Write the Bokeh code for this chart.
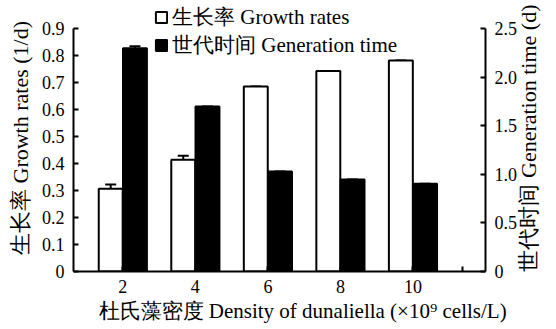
import math
from bokeh.plotting import figure
from bokeh.models import (Range1d, LinearAxis, FixedTicker, Whisker, TeeHead,
                          ColumnDataSource, Legend, LegendItem, Title)
from bokeh.transform import dodge
from bokeh.embed import file_html
from bokeh.resources import INLINE

# ---- data ----
densities = ["2", "4", "6", "8", "10"]
growth_rates = [0.307, 0.414, 0.686, 0.743, 0.782]
growth_err = [0.016, 0.015, 0.0, 0.0, 0.0]
generation_time = [2.30, 1.70, 1.03, 0.947, 0.903]
generation_err = [0.02, 0.0, 0.0, 0.0, 0.0]
left_ticks = [0, 0.1, 0.2, 0.3, 0.4, 0.5, 0.6, 0.7, 0.8, 0.9]
left_labels = ["0", "0.1", "0.2", "0.3", "0.4", "0.5", "0.6", "0.7", "0.8", "0.9"]
right_ticks = [0, 0.5, 1.0, 1.5, 2.0, 2.5]
right_labels = ["0", "0.5", "1.0", "1.5", "2.0", "2.5"]
x_title = "杜氏藻密度 Density of dunaliella (×10⁹ cells/L)"
left_title = "生长率 Growth rates (1/d)"
right_title = "世代时间 Generation time (d)"

FONT = "Liberation Serif"

xs = list(range(1, len(densities) + 1))
src = ColumnDataSource(dict(
    x=xs,
    growth=growth_rates,
    growth_hi=[g + e for g, e in zip(growth_rates, growth_err)],
    gen=generation_time,
    gen_hi=[g + e for g, e in zip(generation_time, generation_err)],
))

ymax_left = 0.99
p = figure(width=556, height=329, x_range=Range1d(0.32, 6.0),
           y_range=Range1d(0, ymax_left), output_backend="svg",
           toolbar_location=None, min_border_left=73, min_border_right=64,
           min_border_top=4, min_border_bottom=58)
p.extra_y_ranges = {"gen": Range1d(0, 2.5 * ymax_left / 0.9)}
p.outline_line_color = None
p.xgrid.visible = False
p.ygrid.visible = False
p.background_fill_color = "white"

bw = 0.33
off = 0.167
r1 = p.vbar(x=dodge("x", -off), top="growth", width=bw, source=src,
            fill_color="white", line_color="black", line_width=2)
r2 = p.vbar(x=dodge("x", off), top="gen", width=bw, source=src,
            y_range_name="gen", fill_color="black", line_color="black", line_width=2)

w1 = Whisker(base=dodge("x", -off), lower="growth", upper="growth_hi", source=src,
             line_width=2, line_color="black", lower_head=None,
             upper_head=TeeHead(size=11, line_width=2, line_color="black"))
w2 = Whisker(base=dodge("x", off), lower="gen", upper="gen_hi", source=src,
             y_range_name="gen", line_width=2, line_color="black", lower_head=None,
             upper_head=TeeHead(size=11, line_width=2, line_color="black"))
p.add_layout(w1)
p.add_layout(w2)


def style(ax, label_size="22px"):
    ax.axis_line_width = 2
    ax.axis_line_color = "black"
    ax.major_tick_in = 5
    ax.major_tick_out = 0
    ax.major_tick_line_width = 2
    ax.minor_tick_line_color = None
    ax.major_label_text_font = FONT
    ax.major_label_text_font_size = "18px"
    ax.major_label_text_color = "black"
    ax.axis_label_text_font = FONT
    ax.axis_label_text_font_size = label_size
    ax.axis_label_text_font_style = "normal"
    ax.axis_label_text_color = "black"


# x axis
xa = p.xaxis[0]
style(xa, "21px")
x_ticks = xs + [5.68]
xa.ticker = FixedTicker(ticks=x_ticks)
overrides = {x: lab for x, lab in zip(xs, densities)}
overrides[5.68] = ""
xa.major_label_overrides = overrides
xa.major_label_standoff = 8

# left axis
ya = p.yaxis[0]
style(ya, "22px")
ya.bounds = (0, 0.9)
ya.ticker = FixedTicker(ticks=left_ticks)
ya.major_label_overrides = dict(zip(left_ticks, left_labels))
ya.major_label_standoff = 9
ya.axis_label = left_title
ya.axis_label_standoff = 6

# right axis
ra = LinearAxis(y_range_name="gen", ticker=FixedTicker(ticks=right_ticks),
                bounds=(0, 2.5))
style(ra, "22px")
ra.major_label_overrides = dict(zip(right_ticks, right_labels))
ra.major_label_standoff = 9
ra.axis_label = right_title
ra.axis_label_standoff = 8
ra.axis_label_orientation = math.pi / 2
if "axis_label_align" in ra.properties():
    ra.axis_label_align = "start"
p.add_layout(ra, "right")

# x title below, shifted right as in the reference
xt = Title(text=x_title, align="left", offset=25, text_font=FONT,
           text_font_size="21px", text_font_style="normal", text_color="black",
           standoff=2)
p.add_layout(xt, "below")

legend = Legend(items=[LegendItem(label="生长率 Growth rates", renderers=[r1]),
                       LegendItem(label="世代时间 Generation time", renderers=[r2])],
                location=(81, 212), border_line_color=None,
                background_fill_alpha=0, padding=0, margin=0, spacing=0,
                glyph_width=14, glyph_height=14, label_height=21,
                label_standoff=4, label_text_font=FONT,
                label_text_font_size="21px", label_text_color="black")
p.add_layout(legend)

open("out.html", "w").write(file_html(p, INLINE))
